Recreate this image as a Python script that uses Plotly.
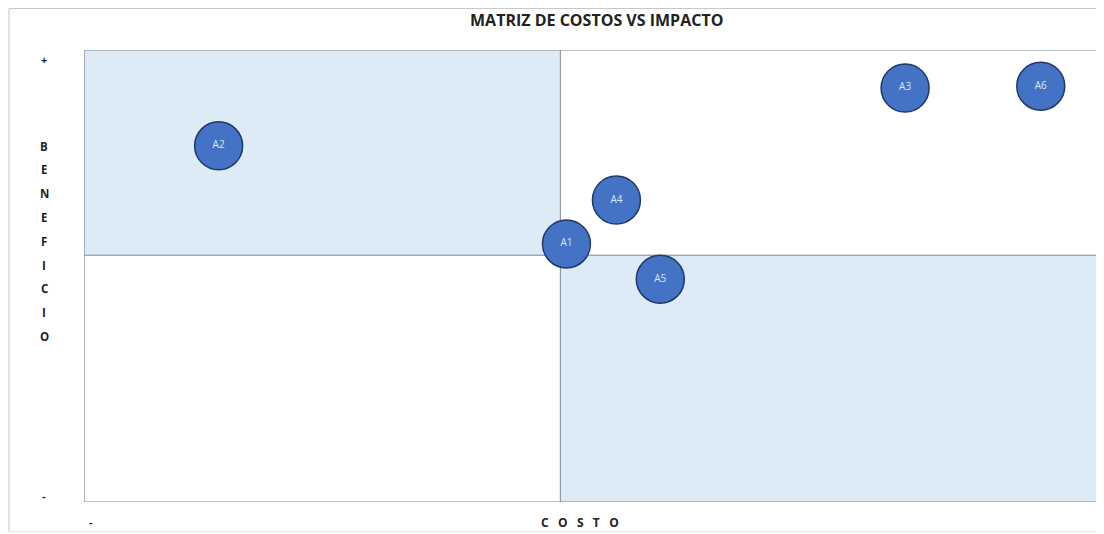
import plotly.graph_objects as go

# Data (axis 0-100 both directions)
labels = ["A1", "A2", "A3", "A4", "A5", "A6"]
costo = [47.3, 13.2, 80.5, 52.2, 56.5, 93.8]
beneficio = [57.1, 78.8, 91.6, 66.8, 49.3, 92.0]
costo_medio = 46.7
beneficio_medio = 54.6
x_range = [0, 100]
y_range = [0, 100]
y_letters = list("BENEFICIO")
x_title = "COSTO"

fig = go.Figure()

fig.add_trace(go.Scatter(
    x=costo, y=beneficio, mode="markers+text", text=labels,
    textposition="middle center",
    textfont=dict(family="Open Sans, Liberation Sans, sans-serif", size=10, color="#dce6f5"),
    marker=dict(size=48, color="#4472C4", line=dict(color="#1f3a68", width=1.5)),
    hoverinfo="text", showlegend=False, cliponaxis=False,
))

shapes = [
    dict(type="rect", xref="x", yref="y", x0=x_range[0], x1=costo_medio,
         y0=beneficio_medio, y1=y_range[1], fillcolor="#DDEBF7", line=dict(width=0), layer="below"),
    dict(type="rect", xref="x", yref="y", x0=costo_medio, x1=x_range[1],
         y0=y_range[0], y1=beneficio_medio, fillcolor="#DDEBF7", line=dict(width=0), layer="below"),
    dict(type="line", xref="x", yref="y", x0=costo_medio, x1=costo_medio,
         y0=y_range[0], y1=y_range[1], line=dict(color="#7f8790", width=1), layer="below"),
    dict(type="line", xref="x", yref="y", x0=x_range[0], x1=x_range[1],
         y0=beneficio_medio, y1=beneficio_medio, line=dict(color="#7f8790", width=1), layer="below"),
    dict(type="rect", xref="x", yref="y", x0=x_range[0], x1=x_range[1],
         y0=y_range[0], y1=y_range[1], line=dict(color="#7f8790", width=1.2), layer="below"),
    # outer chart border
    dict(type="line", xref="paper", yref="paper", x0=-0.0735, x1=-0.0735, y0=-0.066, y1=1.0918,
         line=dict(color="#c8c8c8", width=1)),
    dict(type="line", xref="paper", yref="paper", x0=-0.0735, x1=1.0, y0=1.0918, y1=1.0918,
         line=dict(color="#c8c8c8", width=1)),
    dict(type="line", xref="paper", yref="paper", x0=-0.0735, x1=1.0, y0=-0.066, y1=-0.066,
         line=dict(color="#e0e0e0", width=1)),
]

font = "Open Sans, Liberation Sans, sans-serif"
txt = "#222222"
spaced = "&nbsp;&nbsp;&nbsp;".join(x_title)
annotations = [
    dict(text="<b>MATRIZ DE COSTOS VS IMPACTO</b>", xref="paper", yref="paper", x=0.502, y=1.066,
         showarrow=False, font=dict(family=font, size=16, color=txt), xanchor="center", yanchor="middle"),
    dict(text=f"<b>{spaced}</b>", xref="paper", yref="paper", x=0.4863, y=-0.046,
         showarrow=False, font=dict(family=font, size=12, color=txt), xanchor="center", yanchor="middle"),
    dict(text="<b>+</b>", xref="paper", yref="paper", x=-0.0392, y=0.978,
         showarrow=False, font=dict(family=font, size=11, color=txt), xanchor="center", yanchor="middle"),
    dict(text="<b>-</b>", xref="paper", yref="paper", x=-0.0392, y=0.015,
         showarrow=False, font=dict(family=font, size=11, color=txt), xanchor="center", yanchor="middle"),
    dict(text="<b>-</b>", xref="paper", yref="paper", x=0.007, y=-0.044,
         showarrow=False, font=dict(family=font, size=11, color=txt), xanchor="center", yanchor="middle"),
]
for i, ch in enumerate(y_letters):
    ypix = 146 + i * 23.8
    annotations.append(dict(text=f"<b>{ch}</b>", xref="paper", yref="paper", x=-0.0392,
                            y=(502 - ypix) / 452, showarrow=False,
                            font=dict(family=font, size=11.5, color=txt),
                            xanchor="center", yanchor="middle"))

# page has an 8px body margin, so the figure is sized/offset to place the plot correctly
fig.update_layout(
    width=1096, height=526,
    margin=dict(l=76, r=0, t=42, b=32),
    paper_bgcolor="white", plot_bgcolor="white",
    shapes=shapes, annotations=annotations,
    xaxis=dict(range=x_range, showgrid=False, zeroline=False, showticklabels=False, ticks=""),
    yaxis=dict(range=y_range, showgrid=False, zeroline=False, showticklabels=False, ticks=""),
)

fig.write_html("out.html")
